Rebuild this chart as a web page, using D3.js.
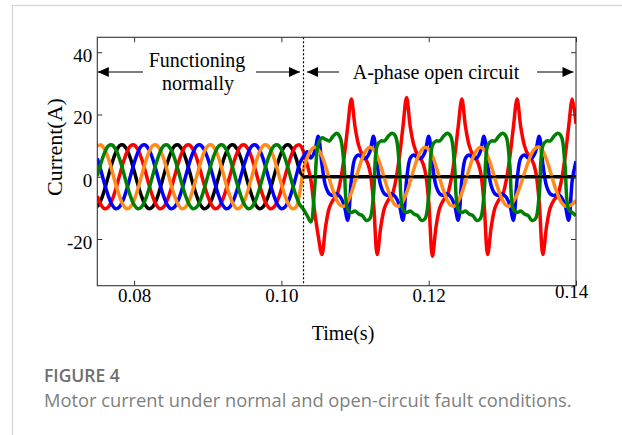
<!DOCTYPE html>
<html>
<head>
<meta charset="utf-8">
<script src="https://cdn.jsdelivr.net/npm/d3@7"></script>
<style>
  html, body { margin: 0; padding: 0; background: #fff; }
  svg { display: block; }
</style>
</head>
<body>
<svg id="chart" width="622" height="435"></svg>
<script>
"use strict";

/*
 * Five-phase motor currents, sampled every 0.5 ms from 0.075 s
 */
var tStart = 0.075, tStep = 0.0005;
var faultTime = 0.103;

// phase A (black) - goes open at the fault
var phaseA = [
  -9.7, -7.5, -4.0, 0.2, 4.4, 7.8, 9.9, 10.2, 8.8, 5.9, 1.9, -2.4, -6.2, -9.0, -10.3,
  -9.7, -7.5, -4.0, 0.2, 4.4, 7.8, 9.9, 10.2, 8.8, 5.9, 1.9, -2.4, -6.2, -9.0, -10.3,
  -9.7, -7.5, -4.0, 0.2, 4.4, 7.8, 9.9, 10.2, 8.8, 5.9, 1.9, -2.4, -6.2, -9.0, -10.3,
  -9.7, -7.5, -4.0, 0.2, 4.4, 7.8, 9.9, 10.2, 8.8, 5.9, 1.9,
  0, 0, 0, 0, 0,
  0, 0, 0, 0, 0, 0, 0, 0, 0, 0, 0, 0, 0, 0, 0,
  0, 0, 0, 0, 0, 0, 0, 0, 0, 0, 0, 0, 0, 0, 0,
  0, 0, 0, 0, 0, 0, 0, 0, 0, 0, 0, 0, 0, 0, 0,
  0, 0, 0, 0, 0, 0, 0, 0, 0, 0, 0, 0, 0, 0, 0,
  0, 0, 0, 0, 0, 0, 0, 0, 0, 0
];
// phase B (red)
var phaseB = [
  -6.2, -9.0, -10.3, -9.7, -7.5, -4.0, 0.2, 4.4, 7.8, 9.9, 10.2, 8.8, 5.9, 1.9, -2.4,
  -6.2, -9.0, -10.3, -9.7, -7.5, -4.0, 0.2, 4.4, 7.8, 9.9, 10.2, 8.8, 5.9, 1.9, -2.4,
  -6.2, -9.0, -10.3, -9.7, -7.5, -4.0, 0.2, 4.4, 7.8, 9.9, 10.2, 8.8, 5.9, 1.9, -2.4,
  -6.2, -9.0, -10.3, -9.7, -7.5, -4.0, 0.2, 4.4, 7.8, 9.9, 10.2,
  8, 4, -1, -11, -19,
  -25, -16, -10, -7.5, -6, -1.5, 6, 16, 25, 16, 10, 7, 5.5, 2, -8,
  -25, -16, -10, -7.5, -6, -1.5, 6, 16, 25.5, 16, 10, 7, 5.5, 2, -8,
  -25.5, -16, -10, -7.5, -6, -1.5, 6, 16, 25, 16, 10, 7, 5.5, 2, -8,
  -25, -16, -10, -7.5, -6, -1.5, 6, 16, 25, 16, 10, 7, 5.5, 2, -8,
  -25, -16, -10, -7.5, -6, -1.5, 6, 16, 25, 17
];
// phase C (blue)
var phaseC = [
  5.9, 1.9, -2.4, -6.2, -9.0, -10.3, -9.7, -7.5, -4.0, 0.2, 4.4, 7.8, 9.9, 10.2, 8.8,
  5.9, 1.9, -2.4, -6.2, -9.0, -10.3, -9.7, -7.5, -4.0, 0.2, 4.4, 7.8, 9.9, 10.2, 8.8,
  5.9, 1.9, -2.4, -6.2, -9.0, -10.3, -9.7, -7.5, -4.0, 0.2, 4.4, 7.8, 9.9, 10.2, 8.8,
  5.9, 1.9, -2.4, -6.2, -9.0, -10.3, -9.7, -7.5, -4.0, 0.2, 4.4,
  6.5, 8, 6, 8, 13,
  4, -3, -5.5, -6, -5.5, -6.5, -9, -14, -1, 6, 7, 6, 6, 8, 13,
  4, -3, -5.5, -6, -5.5, -6.5, -9, -14, -1, 6, 7, 6, 6, 8, 13,
  4, -3, -5.5, -6, -5.5, -6.5, -9, -14, -1, 6, 7, 6, 6, 8, 13,
  4, -3, -5.5, -6, -5.5, -6.5, -9, -14, -1, 6, 7, 6, 6, 8, 13,
  4, -3, -5.5, -6, -5.5, -6.5, -9, -14, -1, 5
];
// phase D (orange)
var phaseD = [
  9.9, 10.2, 8.8, 5.9, 1.9, -2.4, -6.2, -9.0, -10.3, -9.7, -7.5, -4.0, 0.2, 4.4, 7.8,
  9.9, 10.2, 8.8, 5.9, 1.9, -2.4, -6.2, -9.0, -10.3, -9.7, -7.5, -4.0, 0.2, 4.4, 7.8,
  9.9, 10.2, 8.8, 5.9, 1.9, -2.4, -6.2, -9.0, -10.3, -9.7, -7.5, -4.0, 0.2, 4.4, 7.8,
  9.9, 10.2, 8.8, 5.9, 1.9, -2.4, -6.2, -9.0, -10.3, -9.7, -5.0,
  2.6, 6.1, 8.5, 9.5, 8.8,
  6.7, 3.3, -0.6, -4.4, -7.4, -9.2, -9.4, -7.9, -5.1, -1.4, 2.6, 6.1, 8.5, 9.5, 8.8,
  6.7, 3.3, -0.6, -4.4, -7.4, -9.2, -9.4, -7.9, -5.1, -1.4, 2.6, 6.1, 8.5, 9.5, 8.8,
  6.7, 3.3, -0.6, -4.4, -7.4, -9.2, -9.4, -7.9, -5.1, -1.4, 2.6, 6.1, 8.5, 9.5, 8.8,
  6.7, 3.3, -0.6, -4.4, -7.4, -9.2, -9.4, -7.9, -5.6, -2.4, 1.2, 4.6, 7.6, 9.2, 9.5,
  8.2, 5.5, 1.8, -2.2, -5.6, -8.2, -9.4, -9.5, -8.8, -7.6
];
// phase E (green)
var phaseE = [
  0.2, 4.4, 7.8, 9.9, 10.2, 8.8, 5.9, 1.9, -2.4, -6.2, -9.0, -10.3, -9.7, -7.5, -4.0,
  0.2, 4.4, 7.8, 9.9, 10.2, 8.8, 5.9, 1.9, -2.4, -6.2, -9.0, -10.3, -9.7, -7.5, -4.0,
  0.2, 4.4, 7.8, 9.9, 10.2, 8.8, 5.9, 1.9, -2.4, -6.2, -9.0, -10.3, -9.7, -7.5, -4.0,
  0.2, 4.4, 7.8, 9.9, 10.2, 8.8, 5.9, 1.9, -2.4, -6.2, -9.0,
  -10.5, -12.5, -14.5, -4, 10.5,
  12.5, 12, 11.5, 13, 14, 12.5, 4, -10.5, -11.5, -11, -12, -12.5, -14, -13.5, -6,
  10, 11.5, 11.5, 13, 14, 13, 4, -10.5, -11.5, -11, -12, -12.5, -14, -13.5, -6,
  10, 11.5, 11.5, 13, 14, 13, 4, -10.5, -11.5, -11, -12, -12.5, -14, -13.5, -6,
  10, 11.5, 11.5, 13, 14, 13, 4, -10.5, -11.5, -11, -12, -12.5, -14, -13.5, -6,
  10, 11.5, 11.5, 13, 14, 13, 4, -10.5, -11.5, -12.5
];

var seriesNames  = ["A", "B", "C", "D", "E"];
var seriesColors = ["#000000", "#ff0000", "#0000ff", "#ff8c1a", "#008000"];

var xTicks = [0.08, 0.10, 0.12, 0.14];
var xTickLabels = ["0.08", "0.10", "0.12", "0.14"];
var yTicks = [-20, 0, 20, 40];
var yTickLabels = ["-20", "0", "20", "40"];

var xLabel = "Time(s)";
var yLabel = "Current(A)";
var noteNormal = ["Functioning", "normally"];
var noteFault = "A-phase open circuit";
var figTitle = "FIGURE 4";
var figCaption = "Motor current under normal and open-circuit fault conditions.";

/*
 * layout
 */
var svg = d3.select("#chart");
var plot = { x0: 97.3, x1: 576, y0: 37.3, y1: 285.7 };
var serif = "'Liberation Serif', 'Times New Roman', serif";
var sans = "'Open Sans', 'Noto Sans', sans-serif";

var x = d3.scaleLinear().domain([0.075, 0.14]).range([plot.x0, plot.x1]);
var y = d3.scaleLinear().domain([-35, 44.8]).range([plot.y1, plot.y0]);

svg.append("rect").attr("width", 622).attr("height", 435).attr("fill", "#fff");

// card border
svg.append("rect")
  .attr("x", 12.5).attr("y", 5.5)
  .attr("width", 700).attr("height", 500)
  .attr("fill", "none")
  .attr("stroke", "#d4d4d4")
  .attr("stroke-width", 1.2);

svg.append("clipPath").attr("id", "plotClip")
  .append("rect")
    .attr("x", plot.x0).attr("y", plot.y0)
    .attr("width", plot.x1 - plot.x0)
    .attr("height", plot.y1 - plot.y0);

// the waveforms
var allSeries = [phaseA, phaseB, phaseC, phaseD, phaseE];
var line = d3.line()
  .x(function(d) { return x(d.t); })
  .y(function(d) { return y(d.v); })
  .curve(d3.curveCatmullRom.alpha(0.5));

var data = allSeries.map(function(vals, k) {
  return {
    name: seriesNames[k],
    color: seriesColors[k],
    pts: vals.map(function(v, i) { return { t: tStart + i * tStep, v: v }; })
  };
});

var lines = svg.append("g").attr("clip-path", "url(#plotClip)");
lines.selectAll("path.phase")
  .data(data).enter()
  .append("path")
    .attr("class", "phase")
    .attr("fill", "none")
    .attr("stroke", function(d) { return d.color; })
    .attr("stroke-width", 3.5)
    .attr("stroke-linejoin", "round")
    .attr("d", function(d) { return line(d.pts); });

// the open phase sits on top once it is dead
lines.append("path")
  .attr("fill", "none")
  .attr("stroke", "#000")
  .attr("stroke-width", 2.2)
  .attr("d", line(data[0].pts.filter(function(d) { return d.t >= faultTime - 0.0005; })));

// fault marker
svg.append("line")
  .attr("x1", x(faultTime)).attr("x2", x(faultTime))
  .attr("y1", plot.y0).attr("y2", plot.y1)
  .attr("stroke", "#000")
  .attr("stroke-width", 1.2)
  .attr("stroke-dasharray", "2,2");

/*
 * axes (inward ticks on all four sides, MATLAB box style)
 */
var tickLen = 5;
var xAxis = svg.append("g")
  .attr("transform", "translate(0," + plot.y1 + ")")
  .call(d3.axisBottom(x).tickValues(xTicks)
    .tickFormat(function(d, i) { return xTickLabels[i]; })
    .tickSizeInner(-tickLen).tickSizeOuter(0).tickPadding(3));
xAxis.select(".domain").remove();
xAxis.selectAll("text")
  .style("font-family", serif).style("font-size", "19px").attr("fill", "#000");
// last label squeezed in at the corner
xAxis.selectAll("text").filter(function(d) { return d === 0.14; })
  .attr("dx", -5).attr("y", -1);

var yAxis = svg.append("g")
  .attr("transform", "translate(" + plot.x0 + ",0)")
  .call(d3.axisLeft(y).tickValues(yTicks)
    .tickFormat(function(d, i) { return yTickLabels[i]; })
    .tickSizeInner(-tickLen).tickSizeOuter(0).tickPadding(5));
yAxis.select(".domain").remove();
yAxis.selectAll("text")
  .attr("dy", "0.5em")
  .style("font-family", serif).style("font-size", "19px").attr("fill", "#000");

var topAxis = svg.append("g")
  .attr("transform", "translate(0," + plot.y0 + ")")
  .call(d3.axisTop(x).tickValues(xTicks).tickFormat("")
    .tickSizeInner(-tickLen).tickSizeOuter(0));
topAxis.select(".domain").remove();

var rightAxis = svg.append("g")
  .attr("transform", "translate(" + plot.x1 + ",0)")
  .call(d3.axisRight(y).tickValues(yTicks).tickFormat("")
    .tickSizeInner(-tickLen).tickSizeOuter(0));
rightAxis.select(".domain").remove();

svg.selectAll(".tick line").attr("stroke", "#333");

// box
svg.append("rect")
  .attr("x", plot.x0).attr("y", plot.y0)
  .attr("width", plot.x1 - plot.x0)
  .attr("height", plot.y1 - plot.y0)
  .attr("fill", "none")
  .attr("stroke", "#333")
  .attr("stroke-width", 1.1);

// axis titles
svg.append("text")
  .attr("x", 343).attr("y", 340)
  .attr("text-anchor", "middle")
  .style("font-family", serif).style("font-size", "20px")
  .text(xLabel);

svg.append("text")
  .attr("transform", "translate(62,147) rotate(-90)")
  .attr("text-anchor", "middle")
  .style("font-family", serif).style("font-size", "22px")
  .text(yLabel);

/*
 * annotations: double arrows either side of the fault
 */
var arrowY = 72;
var notes = svg.append("g");

function arrowHead(tipX, dir) {
  var len = 11, half = 5;
  var bx = tipX - dir * len;
  return "M" + tipX + "," + arrowY + " L" + bx + "," + (arrowY - half) +
         " L" + bx + "," + (arrowY + half) + " Z";
}

function spanArrow(xa, xb, gapA, gapB) {
  notes.append("line")
    .attr("x1", xa).attr("x2", gapA).attr("y1", arrowY).attr("y2", arrowY)
    .attr("stroke", "#000").attr("stroke-width", 1);
  notes.append("line")
    .attr("x1", gapB).attr("x2", xb).attr("y1", arrowY).attr("y2", arrowY)
    .attr("stroke", "#000").attr("stroke-width", 1);
  notes.append("path").attr("d", arrowHead(xa, -1)).attr("fill", "#000");
  notes.append("path").attr("d", arrowHead(xb, 1)).attr("fill", "#000");
}

var xf = x(faultTime);
spanArrow(plot.x0 + 0.5, xf - 3.5, 143, 256);
spanArrow(xf + 3.5, plot.x1 - 2.5, 339, 537);

notes.append("text")
  .attr("x", 197).attr("y", 67)
  .attr("text-anchor", "middle")
  .style("font-family", serif).style("font-size", "20px")
  .text(noteNormal[0]);
notes.append("text")
  .attr("x", 198).attr("y", 90)
  .attr("text-anchor", "middle")
  .style("font-family", serif).style("font-size", "20px")
  .text(noteNormal[1]);
notes.append("text")
  .attr("x", 436).attr("y", 79)
  .attr("text-anchor", "middle")
  .style("font-family", serif).style("font-size", "20px")
  .text(noteFault);

// figure caption
svg.append("text")
  .attr("x", 44).attr("y", 382)
  .style("font-family", sans).style("font-size", "17.5px")
  .style("font-weight", 600)
  .attr("fill", "#6e6e6e")
  .text(figTitle);
svg.append("text")
  .attr("x", 44).attr("y", 407)
  .style("font-family", sans).style("font-size", "18.3px")
  .attr("fill", "#808080")
  .text(figCaption);
</script>
</body>
</html>
